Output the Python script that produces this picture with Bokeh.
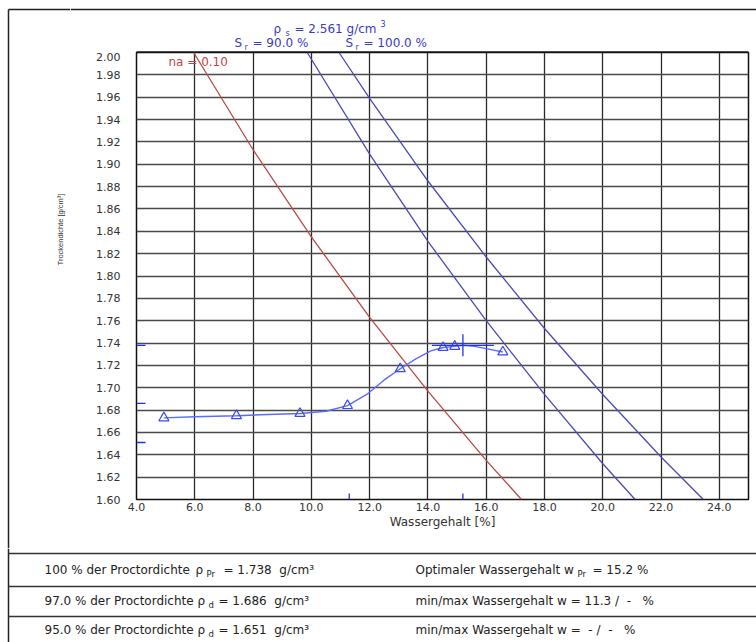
import math
from bokeh.plotting import figure
from bokeh.layouts import column, row
from bokeh.models import Range1d, FixedTicker, NumeralTickFormatter, Label
from bokeh.embed import file_html
from bokeh.resources import INLINE

# ---------------- data ----------------
water_content = [4.94, 7.43, 9.61, 11.24, 13.05, 14.52, 14.92, 16.57]
dry_density = [1.673, 1.675, 1.677, 1.684, 1.717, 1.736, 1.737, 1.732]

fit_w = [4.94, 6.0, 7.43, 8.5, 9.61, 10.5, 11.24, 11.9, 12.5, 13.05, 13.6,
         14.1, 14.52, 14.92, 15.2, 15.6, 16.0, 16.57]
fit_rho = [1.673, 1.674, 1.675, 1.676, 1.677, 1.679, 1.684, 1.694, 1.707, 1.717,
           1.726, 1.733, 1.736, 1.737, 1.738, 1.737, 1.735, 1.732]

na_w = [5.96, 8.0, 10.0, 12.0, 14.0, 16.0, 17.21]
na_rho = [2.000, 1.913, 1.835, 1.763, 1.697, 1.635, 1.600]
sr90_w = [9.86, 12.0, 14.0, 16.0, 18.0, 20.0, 21.11]
sr90_rho = [2.000, 1.909, 1.831, 1.760, 1.694, 1.632, 1.600]
sr100_w = [10.95, 12.0, 14.0, 16.0, 18.0, 20.0, 22.0, 23.45]
sr100_rho = [2.000, 1.959, 1.885, 1.817, 1.753, 1.694, 1.638, 1.600]

w_opt = 15.2
rho_pr = 1.738
rho_97 = 1.686
rho_95 = 1.651
w_min_97 = 11.3

x_ticks = [4.0, 6.0, 8.0, 10.0, 12.0, 14.0, 16.0, 18.0, 20.0, 22.0, 24.0]
y_ticks = [1.60, 1.62, 1.64, 1.66, 1.68, 1.70, 1.72, 1.74, 1.76, 1.78, 1.80,
           1.82, 1.84, 1.86, 1.88, 1.90, 1.92, 1.94, 1.96, 1.98, 2.00]

# ---------------- layout (pixels) ----------------
W, H = 756, 642
L, R, T, B = 136, 748, 52, 499      # plot frame
LW = 70                             # width of left strip
FOOT = 548                          # top of footer strip
X0, X1, Y0, Y1 = 4.0, 25.0, 1.60, 2.00
FONT = "DejaVu Sans"
INK = "#222222"


def ddx(n):
    return n * (X1 - X0) / (R - L)


def ddy(n):
    return n * (Y1 - Y0) / (B - T)


def canvas(w, h, x0, y0):
    f = figure(width=w, height=h, x_range=Range1d(x0, x0 + w), y_range=Range1d(y0 + h, y0),
               x_axis_location=None, y_axis_location=None, toolbar_location=None,
               output_backend="svg", min_border=0)
    f.outline_line_color = None
    f.background_fill_color = "white"
    f.border_fill_color = "white"
    f.xgrid.visible = False
    f.ygrid.visible = False
    return f


def lab(f, px, py, text, size=12, color=INK, align="left", angle=0.0, font=FONT):
    f.add_layout(Label(x=px, y=py, text=text, text_font=font,
                       text_font_size=f"{size}px", text_color=color,
                       text_align=align, text_baseline="middle", angle=angle))


# ---------------- main chart ----------------
p = figure(width=W - LW, height=FOOT - T, x_range=Range1d(X0, X1), y_range=Range1d(Y0, Y1),
           output_backend="svg", toolbar_location=None,
           min_border_left=L - LW, min_border_right=W - R,
           min_border_top=0, min_border_bottom=FOOT - B)
p.background_fill_color = "white"
p.border_fill_color = "white"
p.outline_line_color = "#111111"
p.outline_line_width = 1.5

for ax in (p.xaxis[0], p.yaxis[0]):
    ax.axis_line_color = None
    ax.major_tick_line_color = None
    ax.minor_tick_line_color = None
    ax.major_tick_out = 0
    ax.major_tick_in = 0
    ax.minor_tick_out = 0
    ax.minor_tick_in = 0
    ax.major_label_text_font = FONT
    ax.major_label_text_font_size = "11px"
    ax.major_label_text_color = "#333333"
p.xaxis.ticker = FixedTicker(ticks=x_ticks)
p.yaxis.ticker = FixedTicker(ticks=y_ticks)
p.xaxis.formatter = NumeralTickFormatter(format="0.0")
p.yaxis.formatter = NumeralTickFormatter(format="0.00")
p.xaxis.major_label_standoff = 3
p.yaxis.major_label_standoff = 16
p.xaxis.axis_label = "Wassergehalt [%]"
p.xaxis.axis_label_text_font = FONT
p.xaxis.axis_label_text_font_size = "12px"
p.xaxis.axis_label_text_font_style = "normal"
p.xaxis.axis_label_text_color = "#333333"
p.xaxis.axis_label_standoff = 1

p.xgrid.ticker = FixedTicker(ticks=x_ticks)
p.ygrid.ticker = FixedTicker(ticks=y_ticks)
p.xgrid.grid_line_color = "#2a2a2a"
p.ygrid.grid_line_color = "#4a4a4a"
p.xgrid.grid_line_width = 1.3
p.ygrid.grid_line_width = 1.3

# reference lines (air voids / saturation)
p.line(na_w, na_rho, line_color="#b84a48", line_width=1.3)
p.line(sr90_w, sr90_rho, line_color="#4a4ab8", line_width=1.3)
p.line(sr100_w, sr100_rho, line_color="#4a4ab8", line_width=1.3)

# Proctor curve and test points
p.line(fit_w, fit_rho, line_color="#5a6bff", line_width=1.4)
p.scatter(water_content, dry_density, marker="triangle", size=10,
          fill_color=None, line_color="#3a4af0", line_width=1.2)

# optimum cross
p.segment(x0=[w_opt - ddx(31)], y0=[rho_pr], x1=[w_opt + ddx(31)], y1=[rho_pr],
          line_color="#2233ee", line_width=1.3)
p.segment(x0=[w_opt], y0=[rho_pr - ddy(11)], x1=[w_opt], y1=[rho_pr + ddy(11)],
          line_color="#2233ee", line_width=1.3)

# marks on the axes
dens_marks = [rho_pr, rho_97, rho_95]
p.segment(x0=[X0] * 3, y0=dens_marks, x1=[X0 + ddx(9)] * 3, y1=dens_marks,
          line_color="#2233ee", line_width=1.3)
w_marks = [w_min_97, w_opt]
p.segment(x0=w_marks, y0=[Y0] * 2, x1=w_marks, y1=[Y0 + ddy(6)] * 2,
          line_color="#2233ee", line_width=1.3)

lab(p, X0 + ddx(168 - L), Y1 - ddy(61 - T), "na = 0.10", color="#c04444")

# ---------------- header strip (right of left strip) ----------------
hd = canvas(W - LW, T, LW, 0)
hd.segment(x0=[LW], y0=[9], x1=[W], y1=[9], line_color=INK, line_width=1.5)
hd.segment(x0=[L], y0=[T - 0.6], x1=[R], y1=[T - 0.6], line_color="#111111", line_width=1.2)
BLUE = "#3a3ac4"
lab(hd, 273, 28, "ρ", color=BLUE)
lab(hd, 285, 33, "s", size=8, color=BLUE)
lab(hd, 294, 28, "= 2.561 g/cm", color=BLUE)
lab(hd, 380, 23, "3", size=8, color=BLUE)
lab(hd, 234, 42, "S", color=BLUE)
lab(hd, 244, 47, "r", size=8, color=BLUE)
lab(hd, 252, 42, "= 90.0 %", color=BLUE)
lab(hd, 345, 42, "S", color=BLUE)
lab(hd, 355, 47, "r", size=8, color=BLUE)
lab(hd, 363, 42, "= 100.0 %", color=BLUE)

# ---------------- left strip ----------------
lf = canvas(LW, FOOT, 0, 0)
lf.segment(x0=[8], y0=[9], x1=[LW], y1=[9], line_color=INK, line_width=1.5)
lf.segment(x0=[8], y0=[9], x1=[8], y1=[FOOT], line_color=INK, line_width=1.5)
lab(lf, 60, 229, "Trockendichte [g/cm³]", size=7.5, color="#333333", align="center",
    angle=math.pi / 2, font="Liberation Sans")

# ---------------- footer (table) ----------------
ft = canvas(W, H - FOOT, 0, FOOT)
ft.segment(x0=[8], y0=[FOOT], x1=[8], y1=[H], line_color=INK, line_width=1.5)
ft.segment(x0=[8] * 3, y0=[553, 586, 616], x1=[W] * 3, y1=[553, 586, 616],
           line_color="#333333", line_width=1.5)

NB = "\u00a0"
rows = [
    (569, "100 % der Proctordichte", 195, "Pr", 206, 223, "= 1.738" + NB * 2 + "g/cm³"),
    (600, "97.0 % der Proctordichte", 197, "d", 208, 218, "= 1.686" + NB * 2 + "g/cm³"),
    (629, "95.0 % der Proctordichte", 197, "d", 208, 218, "= 1.651" + NB * 2 + "g/cm³"),
]
for yy, a, xr, sub, xs, xb, b in rows:
    lab(ft, 44, yy, a)
    lab(ft, xr, yy, "ρ")
    lab(ft, xs, yy + 4, sub, size=8.5)
    lab(ft, xb, yy, b)

lab(ft, 415, 569, "Optimaler Wassergehalt w")
lab(ft, 577, 573, "Pr", size=8.5)
lab(ft, 592, 569, "= 15.2 %")
lab(ft, 415, 600, "min/max Wassergehalt w = 11.3 /" + NB * 2 + "-" + NB * 3 + "%")
lab(ft, 415, 629, "min/max Wassergehalt w =" + NB * 2 + "-" + NB + "/" + NB * 2 + "-" + NB * 3 + "%")

layout = column(row(lf, column(hd, row(p))), ft)
open("out.html", "w").write(file_html(layout, INLINE))
